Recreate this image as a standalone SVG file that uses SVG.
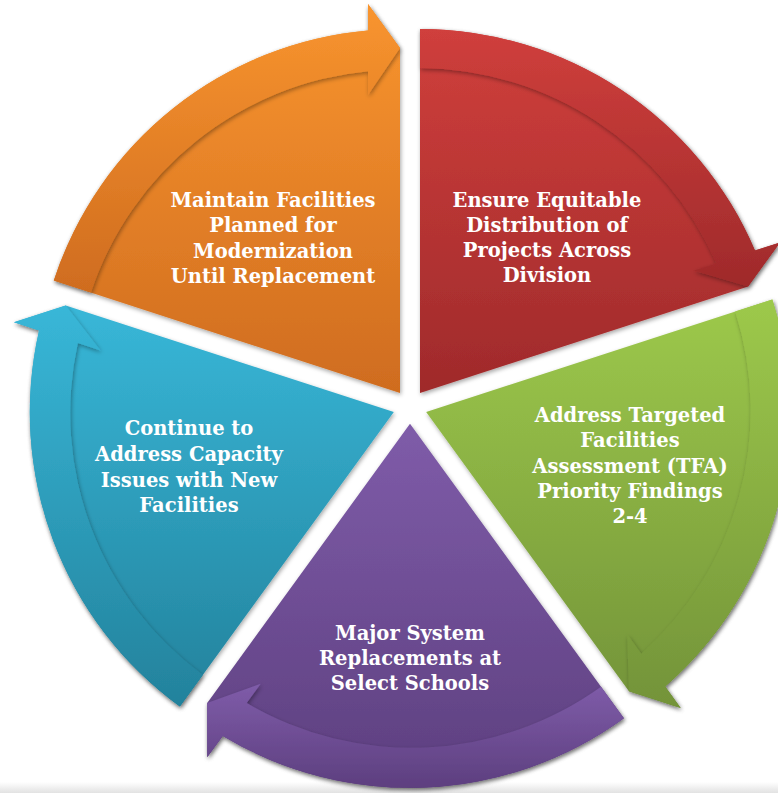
<svg xmlns="http://www.w3.org/2000/svg" width="778" height="793" viewBox="0 0 778 793">
<defs>
<linearGradient id="gO" x1="0" y1="0" x2="0" y2="1"><stop offset="0" stop-color="#F9952F"/><stop offset="1" stop-color="#CF6C1F"/></linearGradient>
<linearGradient id="gR" x1="0" y1="0" x2="0" y2="1"><stop offset="0" stop-color="#D03F3C"/><stop offset="1" stop-color="#9F2A2B"/></linearGradient>
<linearGradient id="gG" x1="0" y1="0" x2="0" y2="1"><stop offset="0" stop-color="#9DC94B"/><stop offset="1" stop-color="#739339"/></linearGradient>
<linearGradient id="gP" x1="0" y1="0" x2="0" y2="1"><stop offset="0" stop-color="#7F5CA9"/><stop offset="1" stop-color="#5D3F7F"/></linearGradient>
<linearGradient id="gB" x1="0" y1="0" x2="0" y2="1"><stop offset="0" stop-color="#38B7D8"/><stop offset="1" stop-color="#23829C"/></linearGradient>
<linearGradient id="gFloor" x1="0" y1="0" x2="0" y2="1"><stop offset="0" stop-color="#ffffff"/><stop offset="1" stop-color="#e2e2e2"/></linearGradient>
<filter id="sh" x="-10%" y="-10%" width="120%" height="120%">
<feDropShadow dx="1" dy="2" stdDeviation="2" flood-color="#000" flood-opacity="0.35"/>
</filter>
</defs>
<style>
.lbl{font-family:"DejaVu Serif","Liberation Serif",serif;font-weight:bold;font-size:19.5px;fill:#ffffff;text-anchor:middle}
.seg{filter:url(#sh)}
</style>
<rect x="0" y="0" width="778" height="793" fill="#ffffff"/>
<rect x="0" y="782" width="778" height="11" fill="url(#gFloor)"/>

<g id="node-maintain">
<path class="seg" fill="url(#gO)" d="M400,393.05 L53.82,280.57 A364,364 0 0 1 368,30.46 L368,4.05 L400,48.05 Z"/>
<text class="lbl" x="273" y="207">Maintain Facilities</text>
<text class="lbl" x="273" y="232">Planned for</text>
<text class="lbl" x="273" y="257.5">Modernization</text>
<text class="lbl" x="273" y="283">Until Replacement</text>
</g>

<g id="node-ensure">
<path class="seg" fill="url(#gR)" d="M420,393.05 L420,29.05 A364,364 0 0 1 754.96,250.57 L780.07,242.41 L748.11,286.44 Z"/>
<text class="lbl" x="547" y="207">Ensure Equitable</text>
<text class="lbl" x="547" y="232">Distribution of</text>
<text class="lbl" x="547" y="257">Projects Across</text>
<text class="lbl" x="547" y="282">Division</text>
</g>

<g id="node-address">
<path class="seg" fill="url(#gG)" d="M426.17,412.05 L772.35,299.57 A364,364 0 0 1 665.19,686.58 L680.71,707.95 L628.96,691.16 Z"/>
<text class="lbl" x="630" y="422">Address Targeted</text>
<text class="lbl" x="630" y="447">Facilities</text>
<text class="lbl" x="630" y="473">Assessment (TFA)</text>
<text class="lbl" x="630" y="498">Priority Findings</text>
<text class="lbl" x="630" y="523">2-4</text>
</g>

<g id="node-major">
<path class="seg" fill="url(#gP)" d="M410,423.8 L623.95,718.28 A364,364 0 0 1 222.76,735.95 L207.24,757.32 L207.21,702.91 Z"/>
<text class="lbl" x="410" y="640">Major System</text>
<text class="lbl" x="410" y="665">Replacements at</text>
<text class="lbl" x="410" y="690">Select Schools</text>
</g>

<g id="node-continue">
<path class="seg" fill="url(#gB)" d="M393.83,412.05 L179.88,706.53 A364,364 0 0 1 39.09,330.43 L13.98,322.27 L65.72,305.44 Z"/>
<text class="lbl" x="189" y="435">Continue to</text>
<text class="lbl" x="189" y="461">Address Capacity</text>
<text class="lbl" x="189" y="486.5">Issues with New</text>
<text class="lbl" x="189" y="511.5">Facilities</text>
</g>

<g id="connectors">
<path class="seg" fill="url(#gO)" d="M53.82,280.57 A364,364 0 0 1 368,30.46 L368,4.05 L400,48.05 L368,95.05 L368,71.18 A325,325 0 0 0 90.91,292.62 Z"/>
<path class="seg" fill="url(#gR)" d="M420,29.05 A364,364 0 0 1 754.96,250.57 L780.07,242.41 L748.11,286.44 L693.52,270.53 L716.23,263.16 A325,325 0 0 0 420,68.05 Z"/>
<path class="seg" fill="url(#gG)" d="M772.35,299.57 A364,364 0 0 1 665.19,686.58 L680.71,707.95 L628.96,691.16 L627.22,634.33 L641.25,653.64 A325,325 0 0 0 735.26,311.62 Z"/>
<path class="seg" fill="url(#gP)" d="M623.95,718.28 A364,364 0 0 1 222.76,735.95 L207.24,757.32 L207.21,702.91 L260.73,683.70 L246.70,703.01 A325,325 0 0 0 601.03,686.73 Z"/>
<path class="seg" fill="url(#gB)" d="M179.88,706.53 A364,364 0 0 1 39.09,330.43 L13.98,322.27 L65.72,305.44 L100.53,350.39 L77.82,343.02 A325,325 0 0 0 202.80,674.98 Z"/>
</g>
</svg>
